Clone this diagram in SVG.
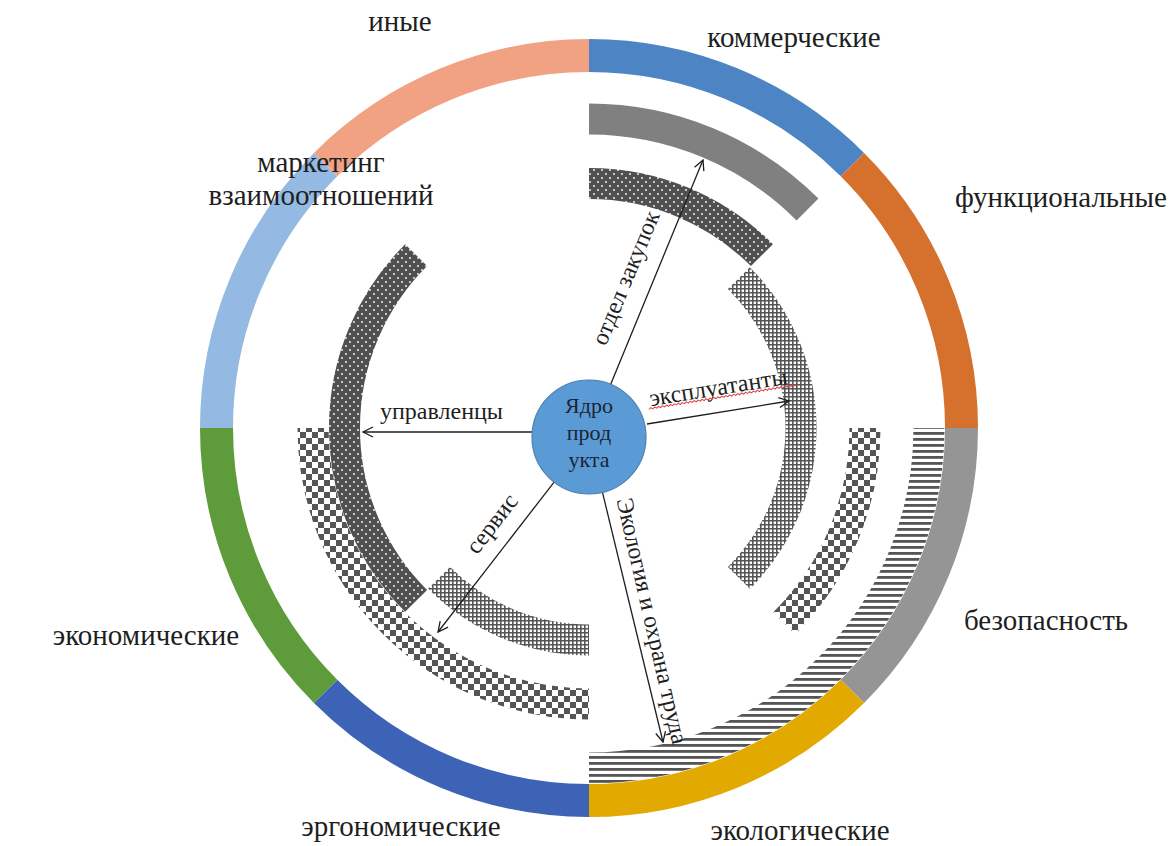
<svg xmlns="http://www.w3.org/2000/svg" width="1171" height="846" viewBox="0 0 1171 846">
<style>
.ring{fill:none;stroke-width:33}
.band{fill:none;stroke-width:31}
.lbl{font-family:"Liberation Serif","Times New Roman",serif;font-size:29px;fill:#1e1e1e;text-anchor:middle}
.alb{font-family:"Liberation Serif","Times New Roman",serif;font-size:24px;fill:#1e1e1e;text-anchor:middle}
.core{font-family:"Liberation Serif","Times New Roman",serif;font-size:22px;fill:#1b2433;text-anchor:middle}
.conn{stroke:#1e1e1e;stroke-width:1.3;fill:none;marker-end:url(#arr)}
</style>
<defs>
<marker id="arr" viewBox="0 0 12 12" refX="11" refY="6" markerWidth="12" markerHeight="12" markerUnits="userSpaceOnUse" orient="auto">
<path d="M1,1 L11,6 L1,11" fill="none" stroke="#1e1e1e" stroke-width="1.3"/>
</marker>
<pattern id="pDot" width="8" height="8" patternUnits="userSpaceOnUse">
<rect width="8" height="8" fill="#505050"/>
<circle cx="2" cy="2" r="0.9" fill="#fff"/>
<circle cx="6" cy="6" r="0.9" fill="#fff"/>
</pattern>
<pattern id="pGrid" width="4" height="4" patternUnits="userSpaceOnUse">
<rect width="4" height="4" fill="#fff"/>
<path d="M0,0.8H4M0.8,0V4" stroke="#555" stroke-width="1.6"/>
</pattern>
<pattern id="pChk" width="12" height="12" patternUnits="userSpaceOnUse">
<rect width="12" height="12" fill="#fff"/>
<rect width="6" height="6" fill="#555"/>
<rect x="6" y="6" width="6" height="6" fill="#555"/>
</pattern>
<pattern id="pStr" width="6" height="6" patternUnits="userSpaceOnUse">
<rect width="6" height="6" fill="#fff"/>
<rect width="6" height="2.8" fill="#555"/>
</pattern>
</defs>
<rect width="1171" height="846" fill="#fff"/>

<g id="seg-commercial"><path class="ring" stroke="#4c84c4" d="M589,55.5 A372.5,372.5 0 0 1 852.4,164.6"/></g>
<g id="seg-functional"><path class="ring" stroke="#d5712c" d="M852.4,164.6 A372.5,372.5 0 0 1 961.5,428"/></g>
<g id="seg-safety"><path class="ring" stroke="#959595" d="M961.5,428 A372.5,372.5 0 0 1 852.4,691.4"/></g>
<g id="seg-ecological"><path class="ring" stroke="#e2a900" d="M852.4,691.4 A372.5,372.5 0 0 1 589,800.5"/></g>
<g id="seg-ergonomic"><path class="ring" stroke="#3d63b6" d="M589,800.5 A372.5,372.5 0 0 1 325.6,691.4"/></g>
<g id="seg-economic"><path class="ring" stroke="#5e9b3a" d="M325.6,691.4 A372.5,372.5 0 0 1 216.5,428"/></g>
<g id="seg-marketing"><path class="ring" stroke="#94b9e2" d="M216.5,428 A372.5,372.5 0 0 1 325.6,164.6"/></g>
<g id="seg-other"><path class="ring" stroke="#f0a282" d="M325.6,164.6 A372.5,372.5 0 0 1 589,55.5"/></g>

<g id="labels">
<text class="lbl" x="794" y="47">коммерческие</text>
<text class="lbl" x="1061" y="207">функциональные</text>
<text class="lbl" x="1046" y="630">безопасность</text>
<text class="lbl" x="800" y="840">экологические</text>
<text class="lbl" x="401" y="836">эргономические</text>
<text class="lbl" x="146" y="645">экономические</text>
<text class="lbl" x="321" y="172">маркетинг</text>
<text class="lbl" x="321" y="205">взаимоотношений</text>
<text class="lbl" x="400" y="31">иные</text>
</g>

<g id="arc-gray"><path class="band" stroke="#808080" d="M589,119 A309,309 0 0 1 807.5,209.5"/></g>
<g id="arc-dot-top"><path class="band" stroke="url(#pDot)" d="M589,183.5 A244.5,244.5 0 0 1 761.9,255.1"/></g>
<g id="arc-grid-right"><path class="band" stroke="url(#pGrid)" d="M738.9,278.1 A212,212 0 0 1 738.9,577.9"/></g>
<g id="arc-chk-right"><path class="band" stroke="url(#pChk)" d="M865,428 A276,276 0 0 1 784.2,623.2"/></g>
<g id="arc-stripes"><path class="band" stroke="url(#pStr)" d="M929,428 A340,340 0 0 1 589,768"/></g>
<g id="arc-dot-left"><path class="band" stroke="url(#pDot)" d="M416.1,600.9 A244.5,244.5 0 0 1 416.1,255.1"/></g>
<g id="arc-chk-left"><path class="band" stroke="url(#pChk)" d="M589,704 A276,276 0 0 1 313,428"/></g>
<g id="arc-grid-bottom"><path class="band" stroke="url(#pGrid)" d="M589,640 A212,212 0 0 1 439.1,577.9"/></g>

<g id="connectors">
<line class="conn" x1="610.7" y1="384.3" x2="703" y2="160"/>
<line class="conn" x1="647" y1="424" x2="789" y2="401"/>
<line class="conn" x1="532" y1="432" x2="363" y2="432"/>
<line class="conn" x1="554.1" y1="482.1" x2="438" y2="632"/>
<line class="conn" x1="602.5" y1="492.4" x2="663" y2="742"/>
<text class="alb" transform="translate(632.9,280.8) rotate(-67.6)">отдел закупок</text>
<g transform="translate(719.5,395) rotate(-9.2)">
<text class="alb" x="0" y="0">эксплуатанты</text>
<path d="M-72,3 l2,-1.5 l2,1.5 l2,-1.5 l2,1.5 l2,-1.5 l2,1.5 l2,-1.5 l2,1.5 l2,-1.5 l2,1.5 l2,-1.5 l2,1.5 l2,-1.5 l2,1.5 l2,-1.5 l2,1.5 l2,-1.5 l2,1.5 l2,-1.5 l2,1.5 l2,-1.5 l2,1.5 l2,-1.5 l2,1.5 l2,-1.5 l2,1.5 l2,-1.5 l2,1.5 l2,-1.5 l2,1.5 l2,-1.5 l2,1.5 l2,-1.5 l2,1.5 l2,-1.5 l2,1.5 l2,-1.5 l2,1.5 l2,-1.5 l2,1.5 l2,-1.5 l2,1.5 l2,-1.5 l2,1.5 l2,-1.5 l2,1.5 l2,-1.5 l2,1.5 l2,-1.5 l2,1.5 l2,-1.5 l2,1.5 l2,-1.5 l2,1.5 l2,-1.5 l2,1.5 l2,-1.5 l2,1.5 l2,-1.5 l2,1.5 l2,-1.5 l2,1.5 l2,-1.5 l2,1.5 l2,-1.5 l2,1.5 l2,-1.5 l2,1.5 l2,-1.5 l2,1.5 l2,-1.5 l2,1.5 l2,-1.5 l2,1.5 l2,-1.5" fill="none" stroke="#e03c3c" stroke-width="1"/>
</g>
<text class="alb" x="441.5" y="419">управленцы</text>
<text class="alb" transform="translate(498,528.5) rotate(-52.3)">сервис</text>
<text class="alb" transform="translate(644.5,622.7) rotate(77.1)">Экология и охрана  труда</text>
</g>

<g id="core">
<circle cx="589" cy="437" r="57" fill="#5b9bd5" stroke="#4a7fb5" stroke-width="1.2"/>
<text class="core" x="589" y="413">Ядро</text>
<text class="core" x="589" y="440">прод</text>
<text class="core" x="589" y="467">укта</text>
</g>
</svg>
